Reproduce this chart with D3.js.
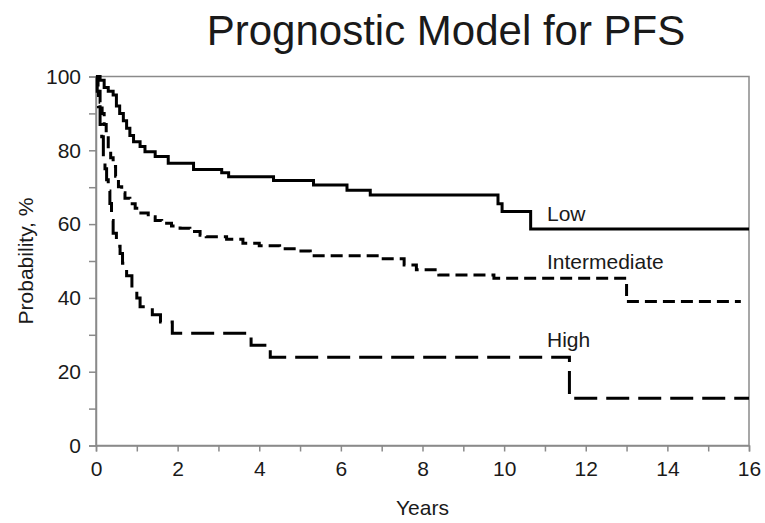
<!DOCTYPE html>
<html>
<head>
<meta charset="utf-8">
<script src="https://cdn.jsdelivr.net/npm/d3@7"></script>
<style>
  body { margin: 0; background: #fff; }
  text { font-family: Arial, "Liberation Sans", sans-serif; fill: #1a1a1a; }
</style>
</head>
<body>
<div id="chart"></div>
<script>
/*Data*/
var groups = ["Low", "Intermediate", "High"];

var lowYears = [0, 0.1, 0.2, 0.3, 0.42, 0.5, 0.58, 0.67, 0.75, 0.83, 0.92, 1.08, 1.2, 1.45, 1.77, 2.39, 3.08, 3.25, 4.35, 5.33, 6.15, 6.72, 9.85, 9.95, 10.65, 16];
var lowProb = [100, 99, 97, 96, 95, 92, 90, 88, 86, 84, 82.3, 81, 79.6, 78.3, 76.5, 74.8, 73.9, 72.8, 71.8, 70.6, 69.2, 67.9, 65.5, 63.4, 58.7, 58.7];

var intYears = [0, 0.05, 0.1, 0.15, 0.2, 0.25, 0.3, 0.36, 0.42, 0.48, 0.55, 0.63, 0.71, 0.83, 0.96, 1.1, 1.28, 1.45, 1.61, 1.85, 2.06, 2.3, 2.55, 2.7, 3.2, 3.6, 4.0, 4.5, 4.9, 5.25, 7.0, 7.55, 7.85, 8.4, 9.75, 13.0, 15.8];
var intProb = [100, 96, 93, 90, 87, 84, 80, 78, 75.6, 73, 70.1, 68.5, 67, 65.5, 64.3, 63, 62, 61, 60.2, 59.5, 58.9, 58, 57, 56.6, 55.9, 54.8, 54.1, 53.3, 52.7, 51.4, 50.6, 48.9, 47.6, 46.2, 45.3, 39, 39];

var highYears = [0, 0.03, 0.06, 0.1, 0.14, 0.18, 0.22, 0.26, 0.3, 0.34, 0.38, 0.42, 0.5, 0.59, 0.65, 0.75, 0.88, 1.0, 1.08, 1.38, 1.58, 1.87, 3.8, 4.27, 11.6, 16];
var highProb = [100, 96, 91.8, 87, 83.7, 78.3, 75, 72, 69, 65.6, 61, 57.5, 54, 52, 49.4, 46, 42.1, 40, 37.6, 35.4, 33.5, 30.4, 27.2, 23.9, 12.8, 12.8];

var xTicks = [0, 1, 2, 3, 4, 5, 6, 7, 8, 9, 10, 11, 12, 13, 14, 15, 16];
var yTicks = [0, 10, 20, 30, 40, 50, 60, 70, 80, 90, 100];

/*SVG Size*/
var width = 765;
var height = 523;
var plotL = 96, plotR = 749, plotT = 76.5, plotB = 445.5;

var svg = d3.select("#chart").append("svg")
            .attr("width", width)
            .attr("height", height);

var x = d3.scaleLinear().domain([0, 16]).range([plotL, plotR]);
var y = d3.scaleLinear().domain([0, 100]).range([plotB, plotT]);

/*Title*/
svg.append("text")
   .attr("x", 446)
   .attr("y", 45)
   .attr("text-anchor", "middle")
   .style("font-size", "42px")
   .text("Prognostic Model for PFS");

/*Frame*/
svg.append("rect")
   .attr("x", plotL).attr("y", plotT)
   .attr("width", plotR - plotL).attr("height", plotB - plotT)
   .attr("fill", "none")
   .attr("stroke", "#8a8a8a")
   .attr("stroke-width", 1.5);

/*Axes*/
var xAxis = svg.append("g")
   .attr("transform", "translate(0," + plotB + ")")
   .call(d3.axisBottom(x).tickValues(xTicks).tickSize(6).tickPadding(10)
           .tickFormat(function(d){ return d % 2 === 0 ? d : ""; }));

var yAxis = svg.append("g")
   .attr("transform", "translate(" + plotL + ",0)")
   .call(d3.axisLeft(y).tickValues(yTicks).tickSize(7).tickPadding(8)
           .tickFormat(function(d){ return d % 20 === 0 ? d : ""; }));

[xAxis, yAxis].forEach(function(a){
  a.select(".domain").attr("stroke", "#8a8a8a").attr("stroke-width", 1.5);
  a.selectAll(".tick line").attr("stroke", "#8a8a8a").attr("stroke-width", 1.5);
  a.selectAll(".tick text")
   .attr("fill", "#1a1a1a")
   .style("font-size", "21px")
   .style("font-family", "Arial, 'Liberation Sans', sans-serif");
});

/*Axis titles*/
svg.append("text")
   .attr("x", (plotL + plotR) / 2)
   .attr("y", 515)
   .attr("text-anchor", "middle")
   .style("font-size", "21px")
   .text("Years");

svg.append("text")
   .attr("transform", "translate(33," + (plotT + plotB) / 2 + ") rotate(-90)")
   .attr("text-anchor", "middle")
   .style("font-size", "21px")
   .text("Probability, %");

/*Curves*/
var series = [
  { name: groups[0], t: lowYears,  p: lowProb,  dash: null,   labelY: 60.8 },
  { name: groups[1], t: intYears,  p: intProb,  dash: "12,6", labelY: 47.8 },
  { name: groups[2], t: highYears, p: highProb, dash: "23,9", labelY: 26.7 }
];

var line = d3.line()
   .x(function(d){ return x(d[0]); })
   .y(function(d){ return y(d[1]); })
   .curve(d3.curveStepAfter);

series.forEach(function(s){
  var pts = s.t.map(function(t, i){ return [t, s.p[i]]; });
  svg.append("path")
     .attr("d", line(pts))
     .attr("fill", "none")
     .attr("stroke", "#000")
     .attr("stroke-width", 3)
     .attr("stroke-dasharray", s.dash);

  svg.append("text")
     .attr("x", x(11.05))
     .attr("y", y(s.labelY))
     .style("font-size", "21px")
     .text(s.name);
});
</script>
</body>
</html>
